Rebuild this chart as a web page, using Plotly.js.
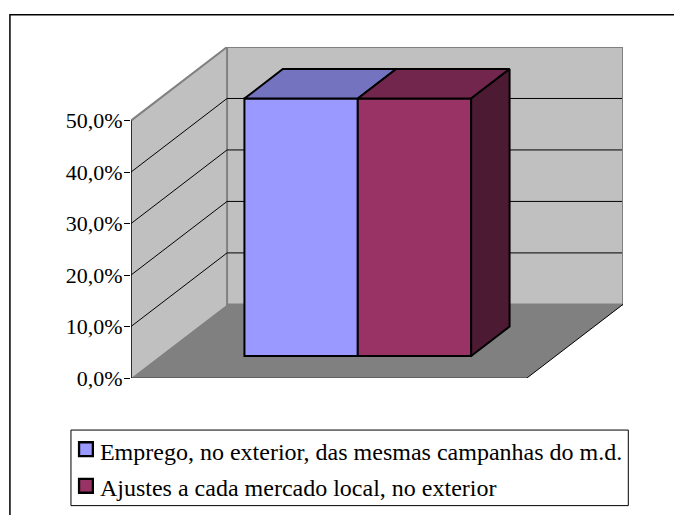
<!DOCTYPE html>
<html><head><meta charset="utf-8">
<script src="https://cdn.plot.ly/plotly-3.0.1.min.js"></script>
<style>html,body{margin:0;padding:0;background:#fff}</style></head>
<body><div id="chart" style="width:674px;height:515px"></div>
<script>
const seriesNames = ["Emprego, no exterior, das mesmas campanhas do m.d.", "Ajustes a cada mercado local, no exterior"];
const seriesValues = [50, 50];
const frontColors = ["#9999FF", "#993366"];
const topColors = ["#7373BF", "#73264D"];
const sideColors = ["#4D4D80", "#4D1A33"];
const tickValues = [0, 10, 20, 30, 40, 50];
const tickLabels = ["0,0%", "10,0%", "20,0%", "30,0%", "40,0%", "50,0%"];

// oblique projection: depth 1 moves a point this far on the axes
const depthX = 0.2426, depthY = 14.3;
const barWidth = 0.2863, zFront = 0.3, zBack = 0.7;
const yMax = 50;
const P = (x, v, z) => [x + z * depthX, v + z * depthY];
const poly = pts => ({x: pts.map(p => p[0]), y: pts.map(p => p[1])});
const path = pts => 'M' + pts.map(p => p[0] + ',' + p[1]).join('L') + 'Z';
const open = pts => 'M' + pts.map(p => p[0] + ',' + p[1]).join('L');

const L = 131, R = 622.7, T = 47.3, B = 378, W = 674, H = 515;
const px = v => (v - L) / (R - L), py = v => (B - v) / (B - T);

const traces = [];
const x0 = 0.5 - barWidth;
seriesValues.forEach((v, i) => {
  const xl = x0 + i * barWidth;
  const fp = P(xl + barWidth / 2, 0, zFront);
  traces.push({type: 'bar', name: seriesNames[i], x: [fp[0]], y: [v], base: [fp[1]], width: [barWidth],
    marker: {color: frontColors[i], line: {color: '#000', width: 2}}, legendgroup: 'g' + i, hoverinfo: 'name+y'});
});
seriesValues.forEach((v, i) => {
  const xl = x0 + i * barWidth, xr = xl + barWidth;
  traces.push(Object.assign({type: 'scatter', mode: 'lines', fill: 'toself', fillcolor: topColors[i],
    line: {color: '#000', width: 2}, showlegend: false, hoverinfo: 'skip'},
    poly([P(xl, v, zFront), P(xr, v, zFront), P(xr, v, zBack), P(xl, v, zBack), P(xl, v, zFront)])));
});
const sv = seriesValues.length - 1, sx = x0 + seriesValues.length * barWidth;
traces.push(Object.assign({type: 'scatter', mode: 'lines', fill: 'toself', fillcolor: sideColors[sv],
  line: {color: '#000', width: 2}, showlegend: false, hoverinfo: 'skip'},
  poly([P(sx, 0, zFront), P(sx, seriesValues[sv], zFront), P(sx, seriesValues[sv], zBack), P(sx, 0, zBack), P(sx, 0, zFront)])));

const edgeLine = (pts, color, width) => Object.assign({type: 'scatter', mode: 'lines', cliponaxis: false,
  line: {color: color, width: width}, showlegend: false, hoverinfo: 'skip'}, poly(pts));
const edge = '#808080';
traces.push(edgeLine([P(0,yMax,0), P(0,yMax,1), P(1,yMax,1), P(1,0,1)], edge, 2));
traces.push(edgeLine([P(0,0,0), P(1,0,0)], '#404040', 1));
traces.push(edgeLine([P(1,0,0), P(1,0,1)], '#000', 1));
traces.push(edgeLine([P(0,yMax,0), P(0,0,0)], '#000', 1.5));

const wall = '#C0C0C0', floorC = '#808080';
const shapes = [
  {type: 'path', xref: 'paper', yref: 'paper', path: open([[px(10), py(515)], [px(10), py(15)], [px(674), py(15)]]), line: {color: '#000', width: 1.5}, layer: 'below'},
  {type: 'path', path: path([P(0,0,0), P(0,yMax,0), P(0,yMax,1), P(0,0,1)]), fillcolor: wall, line: {width: 0}, layer: 'below'},
  {type: 'path', path: path([P(0,0,1), P(0,yMax,1), P(1,yMax,1), P(1,0,1)]), fillcolor: wall, line: {color: edge, width: 2}, layer: 'below'},
  {type: 'path', path: path([P(0,0,0), P(1,0,0), P(1,0,1), P(0,0,1)]), fillcolor: floorC, line: {width: 0}, layer: 'below'},
  {type: 'rect', xref: 'paper', yref: 'paper', x0: px(71), x1: px(628), y0: py(430), y1: py(505.5), line: {color: '#000', width: 1}, layer: 'below'}
];
tickValues.filter(t => t > 0 && t < yMax).forEach(t => {
  shapes.push({type: 'path', path: open([P(0,t,0), P(0,t,1), P(1,t,1)]), line: {color: '#000', width: 1}, layer: 'below'});
});

const layout = {
  width: W, height: H, autosize: false,
  margin: {l: L, r: W - R, t: T, b: H - B, pad: 0, autoexpand: false},
  paper_bgcolor: '#fff', plot_bgcolor: 'rgba(0,0,0,0)',
  barmode: 'overlay',
  xaxis: {range: [0, 1 + depthX], visible: false, fixedrange: true},
  yaxis: {range: [0, yMax + depthY], tickmode: 'array', tickvals: tickValues, ticktext: tickLabels,
    ticks: 'outside', ticklen: 6, tickwidth: 1, tickcolor: '#000', showgrid: false, zeroline: false, showline: false,
    ticklabelstandoff: -3,
    tickfont: {family: 'Liberation Serif', size: 22, color: '#000'}, fixedrange: true},
  shapes: shapes,
  showlegend: true,
  legend: {x: px(60), y: py(428), xanchor: 'left', yanchor: 'top', orientation: 'v', traceorder: 'grouped',
    font: {family: 'Liberation Serif', size: 24, color: '#000'}, bgcolor: 'rgba(0,0,0,0)', borderwidth: 0,
    tracegroupgap: 2.5, itemclick: false, itemdoubleclick: false}
};
Plotly.newPlot('chart', traces, layout, {displayModeBar: false, staticPlot: true}).then(() => {
  document.querySelectorAll('.legend .legendsymbols').forEach(g => {
    g.setAttribute('transform', 'translate(3,-1) scale(1.15)');
  });
});
</script></body></html>
